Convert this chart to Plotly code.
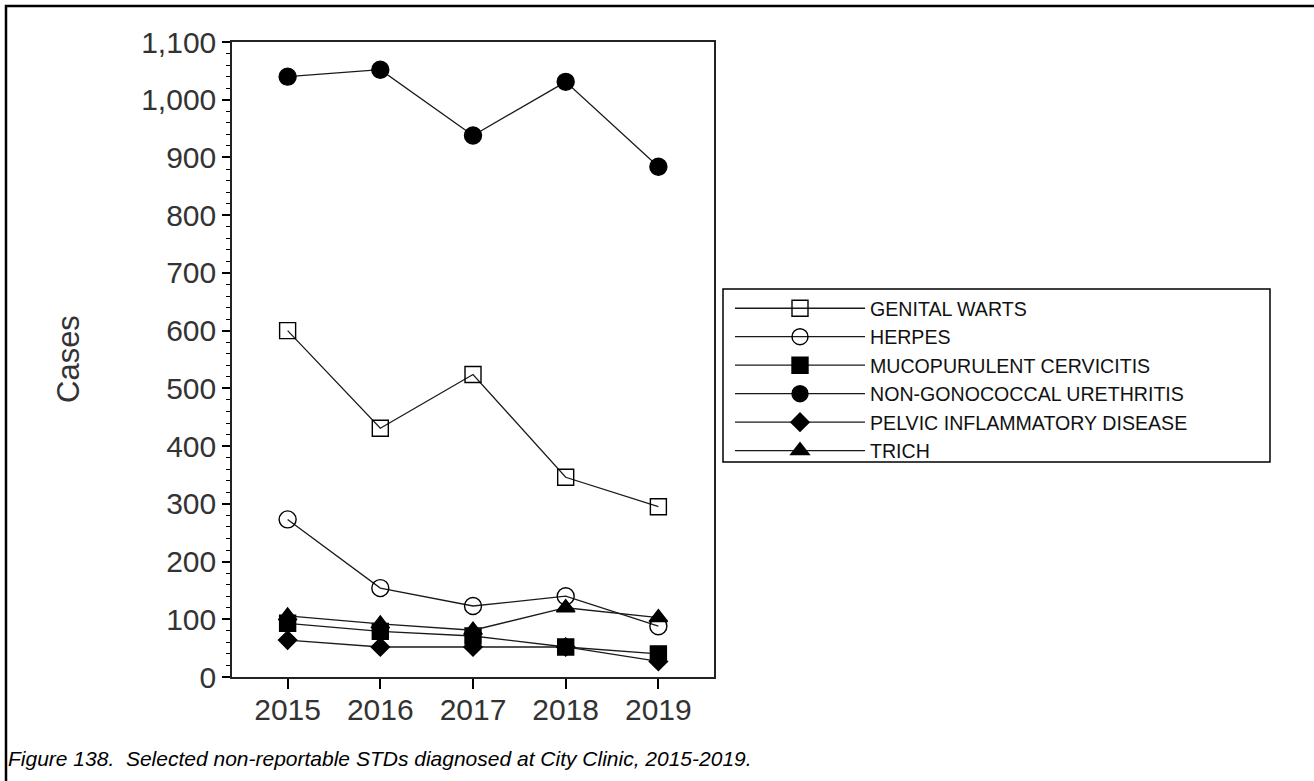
import plotly.graph_objects as go

years = [2015, 2016, 2017, 2018, 2019]
genital_warts = [600, 431, 524, 346, 295]
herpes = [273, 154, 123, 140, 88]
mucopurulent_cervicitis = [93, 79, 71, 52, 40]
non_gonococcal_urethritis = [1040, 1052, 938, 1031, 884]
pelvic_inflammatory_disease = [64, 52, 52, 52, 27]
trich = [106, 92, 81, 120, 103]

series = [
    ("GENITAL WARTS", genital_warts, "square-open", 16),
    ("HERPES", herpes, "circle-open", 17),
    ("MUCOPURULENT CERVICITIS", mucopurulent_cervicitis, "square", 16),
    ("NON-GONOCOCCAL URETHRITIS", non_gonococcal_urethritis, "circle", 17),
    ("PELVIC INFLAMMATORY DISEASE", pelvic_inflammatory_disease, "diamond", 14),
    ("TRICH", trich, "triangle-up", 16),
]

W, H = 1314, 781
L, R, T, B = 232, 600, 42, 104
pw, ph = W - L - R, H - T - B

def px(x):
    return (x - L) / pw

def py(y):
    return (H - B - y) / ph

fig = go.Figure()
for name, vals, sym, sz in series:
    fig.add_trace(go.Scatter(
        x=years, y=vals, name=name, mode="lines+markers",
        line=dict(color="#1a1a1a", width=1.3),
        marker=dict(symbol=sym, size=sz, color="black",
                    line=dict(color="black", width=1.4)),
    ))

font = "Liberation Sans, Arial, sans-serif"

fig.update_layout(
    width=W, height=H,
    margin=dict(l=L, r=R, t=T, b=B),
    paper_bgcolor="white", plot_bgcolor="white",
    font=dict(family=font, color="#222"),
    showlegend=True,
    legend=dict(
        x=px(730), y=py(289), xanchor="left", yanchor="top",
        font=dict(size=19.6, family=font, color="#111"),
        itemwidth=130, tracegroupgap=0,
        bgcolor="rgba(0,0,0,0)", borderwidth=0,
    ),
    xaxis=dict(
        range=[2014.4, 2019.6], tickvals=years,
        ticks="outside", ticklen=10, tickwidth=1.5, tickcolor="black",
        ticklabelstandoff=-5,
        showline=True, linecolor="#222", linewidth=1.5, mirror=True,
        showgrid=False, zeroline=False,
        tickfont=dict(size=30, family=font, color="#333"),
    ),
    yaxis=dict(
        range=[0, 1100], dtick=100, tickformat=",d",
        ticks="outside", ticklen=8, tickwidth=1.5, tickcolor="black",
        showline=True, linecolor="#222", linewidth=1.5, mirror=True,
        showgrid=False, zeroline=False,
        tickfont=dict(size=30, family=font, color="#333"),
        minor=dict(dtick=20, ticks="outside", ticklen=4, tickwidth=1, tickcolor="black", showgrid=False),
    ),
    shapes=[
        dict(type="rect", xref="paper", yref="paper",
             x0=px(6), x1=px(1330), y0=py(800), y1=py(6),
             line=dict(color="black", width=2.5), fillcolor="rgba(0,0,0,0)", layer="above"),
        dict(type="rect", xref="paper", yref="paper",
             x0=px(723), x1=px(1270), y0=py(462), y1=py(289),
             line=dict(color="black", width=1.5), fillcolor="rgba(0,0,0,0)"),
    ],
    annotations=[
        dict(text="Cases", xref="paper", yref="paper", x=px(68), y=py(359),
             textangle=-90, showarrow=False, xanchor="center", yanchor="middle",
             font=dict(size=31, family=font, color="#333")),
        dict(text="<i>Figure 138.\u00a0 Selected non-reportable STDs diagnosed at City Clinic, 2015-2019.</i>",
             xref="paper", yref="paper", x=px(6), y=py(758),
             showarrow=False, xanchor="left", yanchor="middle",
             font=dict(size=21, family=font, color="black")),
    ],
)

fig.write_html("out.html", config={"displayModeBar": False},
               post_script="document.body.style.margin='0';")
